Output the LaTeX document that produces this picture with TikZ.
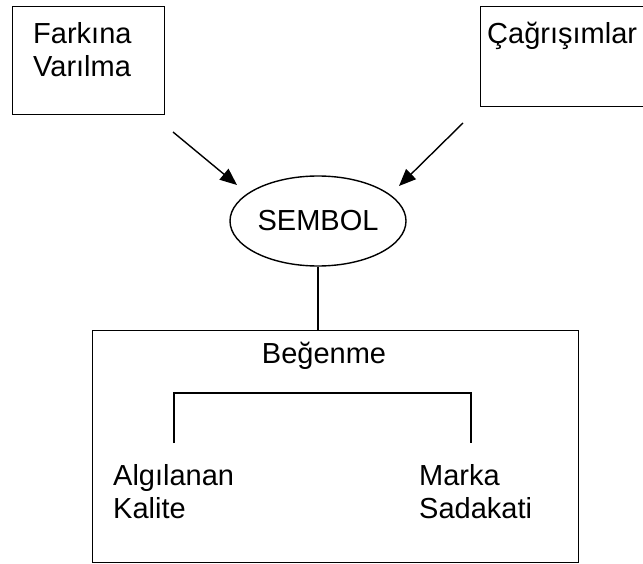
\documentclass[tikz,border=0pt]{standalone}
\usepackage{fontspec}
\setmainfont{Liberation Sans}
\usetikzlibrary{shapes.geometric,arrows.meta}
\begin{document}
\begin{tikzpicture}[x=1pt,y=-1pt,
  txt/.style={font=\fontsize{29}{33}\selectfont,inner sep=0pt},
  box/.style={draw,line width=1.4pt,rectangle,inner sep=0pt},
  lbl/.style={txt,anchor=north west,align=left},
  conn/.style={line width=1.4pt},
  arr/.style={line width=1.4pt,-{Triangle[length=17pt,width=14pt]}}]
\useasboundingbox (0,0) rectangle (643,564);
% top boxes (the right one runs off the page edge)
\begin{scope}
  \clip (0,0) rectangle (643,564);
  \node[box,minimum width=152pt,minimum height=108pt,anchor=north west] (aware) at (12,6) {};
  \node[box,minimum width=190pt,minimum height=100pt,anchor=north west] (assoc) at (480,6) {};
\end{scope}
\node[lbl] (awaretxt) at (33,22) {Farkına\\Varılma};
\node[lbl] (assoctxt) at (487,22) {Çağrışımlar};
% central ellipse
\node[draw,ellipse,line width=1.4pt,minimum width=176pt,minimum height=90pt,txt] (sym) at (318,221) {SEMBOL};
% arrows into the ellipse
\coordinate (a1) at (173,132);
\coordinate (t1) at (237,185);
\coordinate (a2) at (463,123);
\coordinate (t2) at (399,186);
\draw[arr] (a1) -- (t1);
\draw[arr] (a2) -- (t2);
% lower box
\node[box,minimum width=486pt,minimum height=232pt,anchor=north west] (like) at (92,330) {};
\draw[conn] (sym.south) -- (sym.south |- like.north);
\node[txt,anchor=base] (liketxt) at (324,363) {Beğenme};
% bracket
\coordinate (bl) at (174,443);
\coordinate (br) at (471,443);
\draw[conn] (bl) |- (322,393) -| (br);
\node[lbl] (qual) at (113,464) {Algılanan\\Kalite};
\node[lbl] (loyal) at (419,464) {Marka\\Sadakati};
\end{tikzpicture}
\end{document}
